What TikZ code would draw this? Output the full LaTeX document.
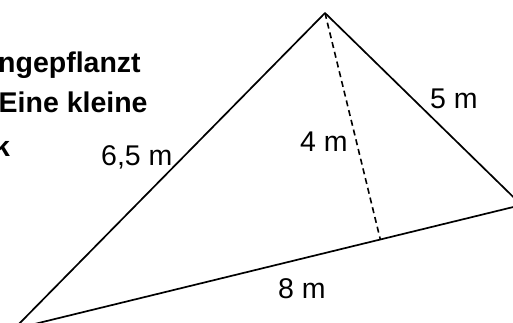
\documentclass[tikz,border=0pt]{standalone}
\usepackage{fontspec}
\setmainfont{Liberation Sans}
\usetikzlibrary{calc}
\begin{document}
\begin{tikzpicture}[x=1pt,y=-1pt,
  edge/.style={line width=1.7pt,line cap=round,line join=round},
  heightline/.style={line width=1.6pt,dash pattern=on 6pt off 4pt},
  lbl/.style={inner sep=0pt,anchor=base west,font=\fontsize{28.5}{34}\selectfont},
  boldtxt/.style={inner sep=0pt,anchor=base west,font=\fontsize{28.5}{34}\selectfont\bfseries}]
\useasboundingbox (0,0) rectangle (513,323);
\coordinate (T) at (325,13);
\coordinate (L) at (14,329);
\coordinate (R) at (521.5,205);
\coordinate (F) at ($(L)!(T)!(R)$);
\draw[edge] (L) -- (T) -- (R) -- cycle;
\draw[heightline] (T) -- (F);
\node[boldtxt] (t1) at (-2,73) {ngepflanzt};
\node[boldtxt] (t2) at (-1.5,113) {Eine kleine};
\node[boldtxt] (t3) at (-6,157) {k};
\node[lbl] (a) at (101,165) {6,5 m};
\node[lbl] (b) at (300,152) {4 m};
\node[lbl] (c) at (430,109) {5 m};
\node[lbl] (d) at (278,298) {8 m};
\end{tikzpicture}
\end{document}
